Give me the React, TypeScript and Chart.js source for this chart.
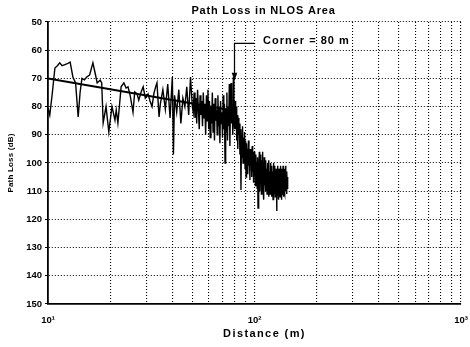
import React, { useEffect, useRef } from 'react';
import { Chart, registerables } from 'chart.js';

Chart.register(...registerables);

const TITLE = 'Path Loss in NLOS Area';
const X_TITLE = 'Distance (m)';
const Y_TITLE = 'Path Loss (dB)';

const X_MIN = 10;
const X_MAX = 1000;
const X_GRID = [10, 20, 30, 40, 50, 60, 70, 80, 90, 100, 200, 300, 400, 500, 600, 700, 800, 900, 1000];
const X_TICK_TEXT: Record<number, string> = { 10: '10¹', 100: '10²', 1000: '10³' };
const Y_MIN = 50;
const Y_MAX = 150;
const Y_STEP = 10;

// measured path loss, near part (10 - 35 m)
const NEAR_DIST = [
  10.0, 10.2, 10.5, 10.8, 11.1, 11.4, 11.7, 12.0, 12.4, 12.8,
  13.2, 13.6, 14.0, 14.3, 14.6, 15.0, 15.4, 15.9, 16.5, 16.9,
  17.3, 17.9, 18.2, 18.5, 19.1, 19.7, 20.4, 20.7, 21.1, 21.4,
  21.8, 22.6, 23.3, 23.9, 24.4, 25.0, 25.8, 26.3, 27.0, 27.5,
  28.2, 28.9, 29.6, 30.5, 31.2, 31.9, 32.6, 33.2, 33.7, 34.5,
];
const NEAR_LOSS = [
  80.5, 83, 75, 66.3, 65.5, 64.5, 65.5, 65.2, 64.8, 64.2,
  69.5, 71.6, 83.7, 75, 70, 70.5, 69.5, 68.8, 64.5, 68,
  71.6, 70.6, 71.6, 85.8, 80, 89, 80, 82, 84.8, 81.2,
  85.8, 73, 71.6, 73.4, 73, 76, 82, 74.8, 75.5, 77.7,
  75, 73, 77, 75.5, 78, 80, 75.2, 73, 71.6, 83.7,
];

// measured path loss, middle part (35 - 80 m)
const MID_DIST = [
  35, 36, 37, 38, 39, 40, 40.5, 41, 42, 43,
  44, 45, 46, 47, 48, 49, 50,
  50.5, 51, 51.5, 52, 52.5, 53, 53.5, 54, 54.5, 55,
  55.5, 56, 56.5, 57, 57.5, 58, 58.5, 59, 59.5, 60,
  60.5, 61, 61.5, 62, 62.5, 63, 63.5, 64, 64.5, 65,
  65.5, 66, 66.5, 67, 67.5, 68, 68.5, 69, 69.5, 70,
  70.5, 71, 71.5, 72, 72.5, 73, 73.5, 74, 74.5, 75,
  75.5, 76, 76.5, 77, 77.5, 78, 78.5, 79, 79.5, 80,
];
const MID_LOSS = [
  79, 74, 81, 72, 84, 69.5, 97, 76, 82, 74,
  86, 77, 80, 73, 83, 69.5, 80,
  82, 75, 84, 77, 86, 74, 81, 88, 76, 83,
  78, 87, 75, 84, 79, 90, 76, 85, 74, 88,
  78, 91, 80, 86, 75, 89, 79, 92, 77, 85,
  81, 90, 76, 87, 80, 93, 78, 86, 82, 91,
  76, 88, 79, 100, 81, 89, 75, 92, 80, 87,
  72, 94, 78, 71.6, 86, 80, 90, 69.5, 84, 88,
];

// measured path loss, far part (80.5 - 145 m)
const FAR_DIST = [
  80.5, 81, 81.5, 82, 82.5, 83, 83.5, 84, 84.5, 85,
  85.5, 86, 86.5, 87, 87.5, 88, 88.5, 89, 89.5, 90,
  90.5, 91, 91.5, 92, 92.5, 93, 93.5, 94, 94.5, 95,
  95.5, 96, 96.5, 97, 97.5, 98, 98.5, 99, 99.5, 100,
  100.5, 101, 101.5, 102, 102.5, 103, 103.5, 104, 104.5, 105,
  105.5, 106, 106.5, 107, 107.5, 108, 108.5, 109, 109.5, 110,
  110.5, 111, 111.5, 112, 112.5, 113, 113.5, 114, 114.5, 115,
  115.5, 116, 116.5, 117, 117.5, 118, 118.5, 119, 119.5, 120,
  120.5, 121, 121.5, 122, 122.5, 123, 123.5, 124, 124.5, 125,
  125.5, 126, 126.5, 127, 127.5, 128, 128.5, 129, 129.5, 130,
  130.5, 131, 131.5, 132, 132.5, 133, 133.5, 134, 134.5, 135,
  135.5, 136, 136.5, 137, 137.5, 138, 138.5, 139, 139.5, 140,
  140.5, 141, 141.5, 142, 142.5, 143, 143.5, 144, 144.5, 145,
];
const FAR_LOSS = [
  78, 88, 80, 92, 83, 95, 84, 90, 86, 97,
  88, 109.6, 90, 98, 87, 100, 91, 96, 89, 102,
  92, 105, 93, 99, 95, 104, 92, 101, 96, 106,
  95, 100, 97, 105, 94, 103, 99, 107, 96, 104,
  98, 108, 97, 103, 100, 109, 98, 116, 100, 106,
  96, 110, 98, 105, 97, 111, 99, 107, 96, 109,
  100, 113, 98, 108, 101, 110, 99, 107, 102, 111,
  100, 109, 101, 112, 99, 108, 103, 111, 100, 110,
  102, 112, 101, 109, 103, 113, 100, 110, 104, 111,
  101, 112, 103, 109, 102, 117, 103, 111, 101, 110,
  104, 113, 102, 109, 103, 112, 101, 110, 104, 113,
  102, 111, 103, 109, 101, 112, 104, 110, 102, 111,
  103, 109, 101, 110, 104, 111, 103, 109, 105, 108,
];

// fitted line
const FIT_DIST = [10, 80];
const FIT_LOSS = [70, 81.5];

// corner annotation
const CORNER_LABEL = 'Corner = 80 m';
const CORNER_DIST = 80;
const ARROW_RIGHT_DIST = 100;
const ARROW_TOP_LOSS = 57.6;
const ARROW_TIP_LOSS = 70.8;
const LABEL_DIST = 110;
const LABEL_LOSS = 56.6;

const FONT = '"Liberation Sans", Arial, Helvetica, sans-serif';

const toPoints = (xs: number[], ys: number[]) => xs.map((x, i) => ({ x, y: ys[i] }));

const textPlugin = {
  id: 'textPlugin',
  afterDraw(chart: any) {
    const { ctx, chartArea, scales } = chart;
    const xs = scales.x;
    const ys = scales.y;
    const cx = (chartArea.left + chartArea.right) / 2;
    const cy = (chartArea.top + chartArea.bottom) / 2;
    ctx.save();
    ctx.fillStyle = '#000';
    ctx.strokeStyle = '#000';

    // title
    ctx.textAlign = 'center';
    ctx.textBaseline = 'middle';
    ctx.font = `bold 11px ${FONT}`;
    (ctx as any).letterSpacing = '0.8px';
    ctx.fillText(TITLE, cx + 9, chartArea.top - 11);

    // x title
    ctx.font = `bold 11px ${FONT}`;
    (ctx as any).letterSpacing = '1.4px';
    ctx.fillText(X_TITLE, cx + 10, chartArea.bottom + 30);

    // y title
    ctx.save();
    ctx.translate(11, cy);
    ctx.rotate(-Math.PI / 2);
    ctx.font = `bold 8px ${FONT}`;
    (ctx as any).letterSpacing = '0.2px';
    ctx.fillText(Y_TITLE, 0, 0);
    ctx.restore();

    // corner annotation
    const px = xs.getPixelForValue(CORNER_DIST);
    const pr = xs.getPixelForValue(ARROW_RIGHT_DIST);
    const pt = ys.getPixelForValue(ARROW_TOP_LOSS);
    const tip = ys.getPixelForValue(ARROW_TIP_LOSS);
    ctx.lineWidth = 1.2;
    ctx.setLineDash([]);
    ctx.beginPath();
    ctx.moveTo(pr, pt);
    ctx.lineTo(px, pt);
    ctx.lineTo(px, tip - 6);
    ctx.stroke();
    ctx.beginPath();
    ctx.moveTo(px - 2.8, tip - 8);
    ctx.lineTo(px + 2.8, tip - 8);
    ctx.lineTo(px, tip);
    ctx.closePath();
    ctx.fill();

    ctx.textAlign = 'left';
    ctx.font = `bold 11px ${FONT}`;
    (ctx as any).letterSpacing = '1px';
    ctx.fillText(CORNER_LABEL, xs.getPixelForValue(LABEL_DIST), ys.getPixelForValue(LABEL_LOSS));
    ctx.restore();
  },
};

export default function App() {
  const canvasRef = useRef<HTMLCanvasElement | null>(null);

  useEffect(() => {
    document.body.style.margin = '0';
    const canvas = canvasRef.current;
    if (!canvas) return;
    const measured = [
      ...toPoints(NEAR_DIST, NEAR_LOSS),
      ...toPoints(MID_DIST, MID_LOSS),
      ...toPoints(FAR_DIST, FAR_LOSS),
    ];
    const chart = new Chart(canvas, {
      type: 'line',
      data: {
        datasets: [
          {
            label: 'Measured',
            data: measured,
            borderColor: '#000',
            borderWidth: 1.4,
            pointRadius: 0,
            tension: 0,
            fill: false,
          },
          {
            label: 'Fit',
            data: toPoints(FIT_DIST, FIT_LOSS),
            borderColor: '#000',
            borderWidth: 2,
            pointRadius: 0,
            tension: 0,
            fill: false,
          },
        ],
      },
      options: {
        responsive: false,
        animation: false,
        devicePixelRatio: 1,
        layout: { padding: { top: 22, right: 9, left: 0, bottom: 0 } },
        plugins: {
          legend: { display: false },
          title: { display: false },
          tooltip: { enabled: false },
        },
        scales: {
          x: {
            type: 'logarithmic',
            min: X_MIN,
            max: X_MAX,
            afterBuildTicks: (scale: any) => {
              scale.ticks = X_GRID.map((v) => ({ value: v }));
            },
            afterFit: (scale: any) => {
              scale.height = 43;
              scale.paddingLeft = 0;
              scale.paddingRight = 0;
            },
            ticks: {
              autoSkip: false,
              maxRotation: 0,
              minRotation: 0,
              padding: 11,
              color: '#000',
              font: { family: FONT, size: 9.5, weight: 'bold' },
              callback: (value: any) => X_TICK_TEXT[Number(value)] ?? '',
            },
            grid: {
              color: '#000',
              lineWidth: 1.1,
              drawTicks: false,
              tickLength: 4,
            },
            border: { display: true, color: '#000', width: 1.8, dash: [1, 2] },
          },
          y: {
            type: 'linear',
            reverse: true,
            min: Y_MIN,
            max: Y_MAX,
            afterFit: (scale: any) => {
              scale.width = 48;
              scale.paddingTop = 0;
              scale.paddingBottom = 0;
            },
            ticks: {
              stepSize: Y_STEP,
              padding: 3,
              color: '#000',
              font: { family: FONT, size: 9.5, weight: 'bold' },
            },
            grid: {
              color: '#000',
              lineWidth: 1.1,
              drawTicks: true,
              tickLength: 3,
              tickBorderDash: [],
            },
            border: { display: true, color: '#000', width: 1.8, dash: [1, 2] },
          },
        },
      },
      plugins: [textPlugin],
    } as any);
    return () => chart.destroy();
  }, []);

  return (
    <div style={{ width: 470, height: 347, background: '#fff' }}>
      <canvas ref={canvasRef} width={470} height={347} style={{ display: 'block' }} />
    </div>
  );
}
